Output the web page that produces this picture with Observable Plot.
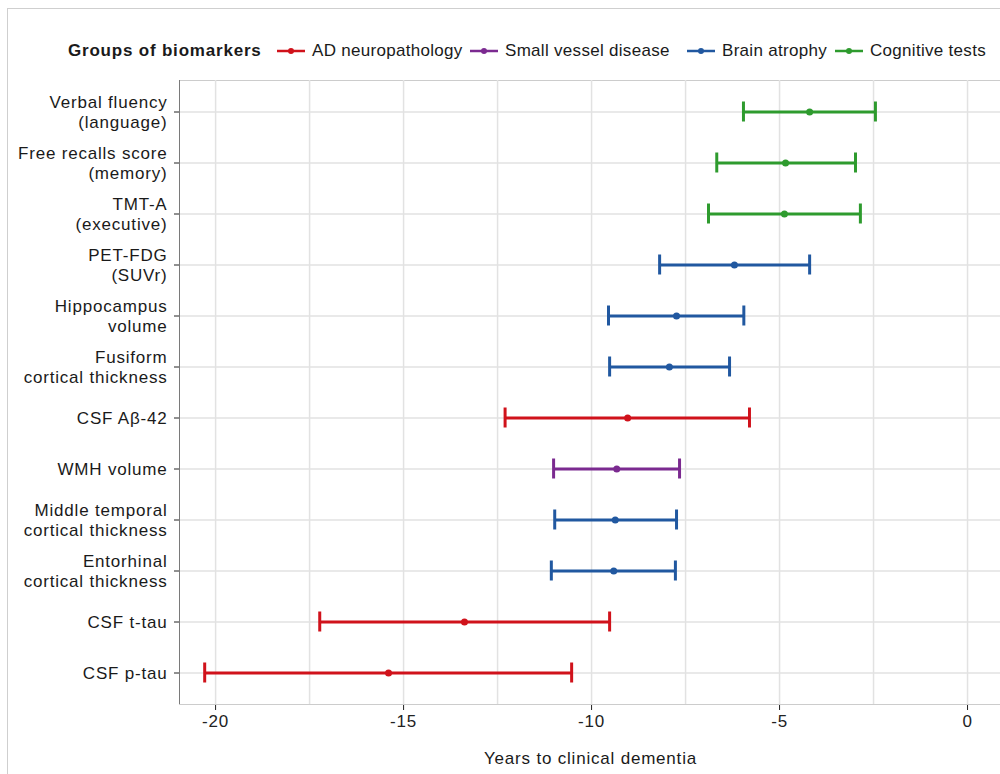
<!DOCTYPE html>
<html>
<head>
<meta charset="utf-8">
<script src="https://cdn.jsdelivr.net/npm/d3@7"></script>
<script src="https://cdn.jsdelivr.net/npm/@observablehq/plot@0.6"></script>
<style>
  html, body { margin: 0; padding: 0; background: #fff; }
  #page { position: relative; width: 1000px; height: 774px; overflow: hidden; font-family: "Liberation Sans", Arial, sans-serif; color: #1a1a1a; }
  #frame { position: absolute; left: 7px; top: 8px; width: 1100px; height: 900px; border-left: 1px solid #cfcfcf; border-top: 1px solid #cfcfcf; }
  #legend { position: absolute; left: 0; top: 40px; height: 24px; width: 1000px; font-size: 17px; }
  #legend .title { position: absolute; left: 68px; top: 1px; font-weight: bold; letter-spacing: 0.8px; }
  #legend .item { position: absolute; top: 1px; white-space: nowrap; display: flex; align-items: center; letter-spacing: 0.3px; }
  #legend .item svg { margin-right: 7px; }
  #chart { position: absolute; left: 0; top: 70px; }
  #chart text { letter-spacing: 0.8px; }
  #xtitle { position: absolute; left: 179px; width: 823px; top: 749px; text-align: center; font-size: 17px; letter-spacing: 0.8px; color: #1a1a1a; }
</style>
</head>
<body>
<div id="page">
  <div id="frame"></div>
  <div id="legend"></div>
  <div id="chart"></div>
  <div id="xtitle"></div>
</div>
<script>
// ---- data (top to bottom as displayed) ----
const categories = [
  "Verbal fluency\n(language)",
  "Free recalls score\n(memory)",
  "TMT-A\n(executive)",
  "PET-FDG\n(SUVr)",
  "Hippocampus\nvolume",
  "Fusiform\ncortical thickness",
  "CSF Aβ-42",
  "WMH volume",
  "Middle temporal\ncortical thickness",
  "Entorhinal\ncortical thickness",
  "CSF t-tau",
  "CSF p-tau"
];
const groups = [
  "Cognitive tests", "Cognitive tests", "Cognitive tests",
  "Brain atrophy", "Brain atrophy", "Brain atrophy",
  "AD neuropathology", "Small vessel disease",
  "Brain atrophy", "Brain atrophy",
  "AD neuropathology", "AD neuropathology"
];
const estimate = [-4.20, -4.84, -4.87, -6.20, -7.74, -7.93, -9.04, -9.33, -9.37, -9.41, -13.38, -15.40];
const lower    = [-5.96, -6.67, -6.89, -8.19, -9.55, -9.52, -12.30, -11.01, -10.98, -11.07, -17.23, -20.29];
const upper    = [-2.45, -2.98, -2.85, -4.20, -5.95, -6.33, -5.80, -7.66, -7.74, -7.77, -9.52, -10.53];

const groupNames  = ["AD neuropathology", "Small vessel disease", "Brain atrophy", "Cognitive tests"];
const groupColors = ["#d0121b", "#7b2a90", "#2158a0", "#2e9b2e"];
const legendTitle = "Groups of biomarkers";
const xTicks = [-20, -15, -10, -5, 0];
const xGrid  = [-20, -17.5, -15, -12.5, -10, -7.5, -5, -2.5, 0];
const xLabel = "Years to clinical dementia";
const xDomain = [-20.96, 0.93];

const rows = categories.map((c, i) => ({label: c, group: groups[i], est: estimate[i], lo: lower[i], hi: upper[i]}));

// ---- legend (HTML, above the SVG) ----
const legend = document.getElementById("legend");
const t = document.createElement("span");
t.className = "title"; t.textContent = legendTitle; legend.appendChild(t);
const itemLeft = [277, 470, 687, 835];
groupNames.forEach((g, i) => {
  const it = document.createElement("span");
  it.className = "item";
  it.style.left = itemLeft[i] + "px";
  it.innerHTML = `<svg width="28" height="20"><line x1="0" x2="28" y1="10" y2="10" stroke="${groupColors[i]}" stroke-width="2.5"/><circle cx="14" cy="10" r="3" fill="${groupColors[i]}"/></svg>`;
  const s = document.createElement("span"); s.textContent = g; it.appendChild(s);
  legend.appendChild(it);
});
document.getElementById("xtitle").textContent = xLabel;

// ---- chart ----
const chart = Plot.plot({
  width: 1000,
  height: 704,
  marginTop: 10,
  marginBottom: 70,
  marginLeft: 179,
  marginRight: -2,
  style: {fontSize: "17px", fontFamily: "Liberation Sans, Arial, sans-serif", color: "#222", background: "transparent"},
  x: {domain: xDomain, ticks: xTicks, tickFormat: d => String(d), tickSize: 6, tickPadding: 4,
      label: null, line: true},
  y: {type: "band", domain: categories, paddingInner: 0, paddingOuter: 0.1, tickSize: 5, tickFormat: () => "", label: null},
  color: {domain: groupNames, range: groupColors},
  marks: [
    Plot.frame({stroke: "#cccccc"}),
    Plot.ruleX(xGrid, {stroke: "#e2e2e2", strokeWidth: 1.5}),
    Plot.ruleY(categories, {stroke: "#e2e2e2", strokeWidth: 1.5}),
    Plot.ruleX([xDomain[0]], {stroke: "#7a7a7a", strokeWidth: 1}),
    Plot.ruleY(rows, {y: "label", x1: "lo", x2: "hi", stroke: "group", strokeWidth: 3}),
    Plot.tickX(rows, {x: "lo", y: "label", stroke: "group", strokeWidth: 3, insetTop: 15.5, insetBottom: 15.5}),
    Plot.tickX(rows, {x: "hi", y: "label", stroke: "group", strokeWidth: 3, insetTop: 15.5, insetBottom: 15.5}),
    Plot.dot(rows, {x: "est", y: "label", fill: "group", r: 3.5}),
    Plot.text(rows, {y: "label", text: "label", frameAnchor: "left", textAnchor: "end", dx: -12,
                     lineHeight: 1.15, fontSize: 17, fill: "#1a1a1a"})
  ]
});
document.getElementById("chart").appendChild(chart);
</script>
</body>
</html>
